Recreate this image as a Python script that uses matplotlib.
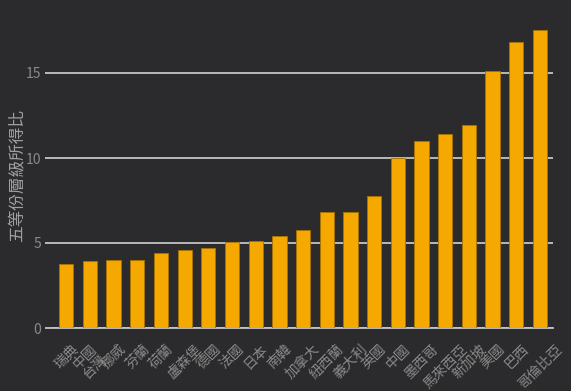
import numpy as np
import matplotlib
matplotlib.use('Agg')
from matplotlib import pyplot as plt

plt.rcParams['font.family'] = ['Noto Sans CJK TC', 'DejaVu Sans']

# data
countries = ['瑞典', '中國\n台灣', '挪威', '芬蘭', '荷蘭', '盧森堡', '德國', '法國',
             '日本', '南韓', '加拿大', '紐西蘭', '義大利', '英國', '中國', '墨西哥',
             '馬來西亞', '新加坡', '美國', '巴西', '哥倫比亞']
ratio = [3.75, 3.96, 3.98, 4.0, 4.43, 4.59, 4.69, 5.06,
         5.12, 5.39, 5.75, 6.82, 6.82, 7.76, 10.0, 11.02,
         11.41, 11.96, 15.12, 16.8, 17.53]
yticks = [0, 5, 10, 15]

bg = '#2b2b2d'
grid_col = '#c4c4c4'
text_col = '#8a8a8a'
bar_col = '#f5a800'

fig = plt.figure(figsize=(5.71, 3.91), dpi=100, facecolor=bg)
ax = fig.add_axes([52 / 571, 1 - 328 / 391, (553 - 52) / 571, (328 - 22) / 391])
ax.set_facecolor(bg)

x = np.arange(len(countries))
ax.set_axisbelow(True)
ax.yaxis.grid(True, color=grid_col, linewidth=1.3)
ax.bar(x, ratio, width=0.6, color=bar_col, edgecolor='#a87400', linewidth=0.6, zorder=3)

ax.set_xlim(-0.6, len(countries) - 0.45)
ax.set_ylim(0, 18)
ax.set_yticks(yticks)
ax.set_xticks(x)
ax.set_xticklabels(countries, rotation=45, ha='center', va='top', fontsize=10,
                   color=text_col, linespacing=0.95)

for s in ['top', 'right', 'left']:
    ax.spines[s].set_visible(False)
ax.spines['bottom'].set_color(grid_col)
ax.spines['bottom'].set_linewidth(1.3)

ax.tick_params(axis='y', length=5, width=1.3, color=grid_col, labelcolor=text_col,
               labelsize=10, pad=3)
ax.tick_params(axis='x', length=0, pad=10)
ax.set_ylabel('五等份層級所得比', color='#a0a0a0', fontsize=12)
ax.yaxis.set_label_coords(-0.053, 0.5)

fig.savefig('out.png', dpi=100, facecolor=bg)
